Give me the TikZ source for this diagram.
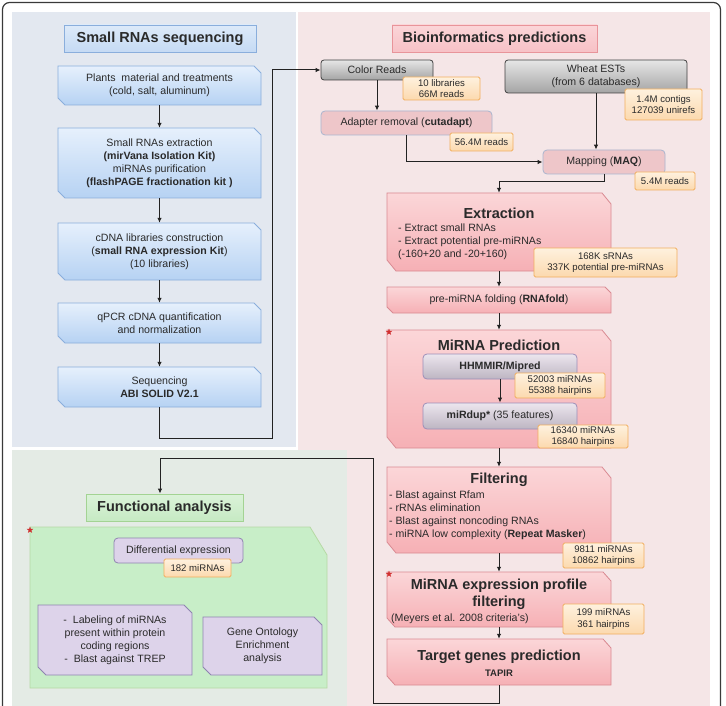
\documentclass[tikz,border=0pt]{standalone}
\usepackage{fontspec}
\setmainfont{Liberation Sans}
\usetikzlibrary{arrows.meta,shapes.geometric}
\definecolor{framec}{HTML}{3A3A3A}
\definecolor{bluebg}{HTML}{E3E8F0}
\definecolor{pinkbg}{HTML}{F5E6E7}
\definecolor{greenbg}{HTML}{E4EBE5}
\definecolor{bluetop}{HTML}{E6F0FC}
\definecolor{bluebot}{HTML}{B6D2F3}
\definecolor{blueedge}{HTML}{8AAEDC}
\definecolor{pinktop}{HTML}{FBD6D8}
\definecolor{pinkbot}{HTML}{F6B0B5}
\definecolor{pinkedge}{HTML}{D98A92}
\definecolor{ptitletop}{HTML}{FBD5D8}
\definecolor{ptitle}{HTML}{F7C1C6}
\definecolor{ptitleedge}{HTML}{E8949A}
\definecolor{btitletop}{HTML}{DDEAF9}
\definecolor{btitlebot}{HTML}{C5DAF4}
\definecolor{adfill}{HTML}{EEC6C9}
\definecolor{adedge}{HTML}{A9B5CF}
\definecolor{graytop}{HTML}{E6E6E6}
\definecolor{graybot}{HTML}{A4A4A4}
\definecolor{grayedge}{HTML}{404040}
\definecolor{liltop}{HTML}{ECE6EE}
\definecolor{lilbot}{HTML}{BDB5C2}
\definecolor{liledge}{HTML}{9C8EB8}
\definecolor{ortop}{HTML}{FEF1DE}
\definecolor{orbot}{HTML}{FCD9AE}
\definecolor{oredge}{HTML}{F2AE5E}
\definecolor{gtitletop}{HTML}{DBF2D9}
\definecolor{gtitle}{HTML}{C6EAC3}
\definecolor{gtitleedge}{HTML}{A3D393}
\definecolor{gbox}{HTML}{C8EEC8}
\definecolor{gboxedge}{HTML}{B6D9A4}
\definecolor{purfill}{HTML}{DDD3EA}
\definecolor{puredge}{HTML}{8F84B0}
\definecolor{txtc}{HTML}{2A2A2A}
\definecolor{linec}{HTML}{222222}
\definecolor{starc}{HTML}{D03030}
\newcommand\cbox[7]{\path[#1] (#2,#3) -- ++(#4-#6,0) -- ++(#6,#7) -- ++(0,#5-#7) -- ++(-#4+#6,0) -- ++(-#6,-#7) -- cycle;}
\tikzset{
  txt/.style={font=\fontsize{10.6}{13}\selectfont, text=txtc, align=center, inner sep=0pt},
  ltxt/.style={font=\fontsize{10.6}{13}\selectfont, text=txtc, align=left, inner sep=0pt},
  ttl/.style={font=\fontsize{14.5}{17}\selectfont\bfseries, text=txtc, align=center, inner sep=0pt},
  bluebox/.style={top color=bluetop, bottom color=bluebot, draw=blueedge, line width=0.8pt},
  pinkbox/.style={top color=pinktop, bottom color=pinkbot, draw=pinkedge, line width=0.8pt},
  purbox/.style={fill=purfill, draw=puredge, line width=0.8pt},
  lab/.style={rounded corners=1.5pt, top color=ortop, bottom color=orbot, draw=oredge, line width=0.8pt,
    font=\fontsize{9.6}{11.5}\selectfont, align=center, inner sep=0pt, text=txtc},
  graybox/.style={rounded corners=3pt, top color=graytop, bottom color=graybot, draw=grayedge, line width=0.8pt,
    font=\fontsize{10.6}{13}\selectfont, align=center, inner sep=0pt, text=txtc},
  lilbox/.style={rounded corners=4pt, top color=liltop, bottom color=lilbot, draw=liledge, line width=0.8pt,
    font=\fontsize{10.6}{13}\selectfont, align=center, inner sep=0pt, text=txtc},
  adbox/.style={rounded corners=4pt, fill=adfill, draw=adedge, line width=0.8pt,
    font=\fontsize{10.6}{13}\selectfont, align=center, inner sep=0pt, text=txtc},
  arr/.style={-{Latex[length=5pt,width=4.5pt]}, line width=1pt, draw=linec},
  mystar/.style={star, star points=5, star point ratio=2.4, fill=starc, inner sep=0pt, minimum size=7pt}
}
\begin{document}
\begin{tikzpicture}[x=1pt,y=-1pt]
\useasboundingbox (0,0) rectangle (726,706);
\fill[white] (0,0) rectangle (726,706);
% panels
\fill[bluebg] (12,12) rectangle (296,447);
\fill[pinkbg] (298,12) rectangle (710,706);
\fill[greenbg] (12,450) rectangle (347,706);
\draw[framec, line width=1.2pt, rounded corners=7pt] (2.5,2.5) rectangle (720.5,740);

% ---------- left: small RNA sequencing ----------
\node[ttl, top color=btitletop, bottom color=btitlebot, draw=blueedge, line width=0.8pt,
  minimum width=192pt, minimum height=27pt] (t1) at (160,38.5) {Small RNAs sequencing};

\cbox{bluebox}{58}{66}{203}{39}{7}{7}
\node[txt, minimum width=203pt, minimum height=39pt] (plants) at (159.5,85.5)
  {Plants\ \ material and treatments\\(cold, salt, aluminum)};
\cbox{bluebox}{58}{128}{203}{70}{7}{7}
\node[txt, minimum width=203pt, minimum height=70pt] (extract) at (159.5,163)
  {Small RNAs extraction\\\textbf{(mirVana Isolation Kit)}\\miRNAs purification\\\textbf{(flashPAGE fractionation kit )}};
\cbox{bluebox}{58}{223}{203}{57}{7}{7}
\node[txt, minimum width=203pt, minimum height=57pt] (cdna) at (159.5,251.5)
  {cDNA libraries construction\\(\textbf{small RNA expression Kit})\\(10 libraries)};
\cbox{bluebox}{58}{303}{203}{40}{7}{7}
\node[txt, minimum width=203pt, minimum height=40pt] (qpcr) at (159.5,323)
  {qPCR cDNA quantification\\and normalization};
\cbox{bluebox}{58}{367}{203}{40}{7}{7}
\node[txt, minimum width=203pt, minimum height=40pt] (seq) at (159.5,387)
  {Sequencing\\\textbf{ABI SOLID V2.1}};

\draw[arr] (plants) -- (extract);
\draw[arr] (extract) -- (cdna);
\draw[arr] (cdna) -- (qpcr);
\draw[arr] (qpcr) -- (seq);

% ---------- right: bioinformatics ----------
\node[ttl, top color=ptitletop, bottom color=ptitle, draw=ptitleedge, line width=0.8pt,
  minimum width=205pt, minimum height=27pt] (t2) at (494.5,38.5) {Bioinformatics predictions};

\node[graybox, minimum width=112pt, minimum height=20pt] (colorreads) at (377,70) {Color Reads};
\node[graybox, minimum width=182pt, minimum height=33pt] (wheat) at (596,76.5) {Wheat ESTs\\(from 6 databases)};
\node[lab, minimum width=77pt, minimum height=23pt] (l10) at (441.5,88.5) {10 libraries\\66M reads};
\node[lab, minimum width=77pt, minimum height=31pt] (lcont) at (663.5,104.5) {1.4M contigs\\127039 unirefs};
\node[adbox, minimum width=171pt, minimum height=24pt] (adapter) at (406.5,123) {Adapter removal (\textbf{cutadapt})};
\node[lab, minimum width=63pt, minimum height=18pt] (l56) at (481.5,142) {56.4M reads};
\node[adbox, minimum width=122pt, minimum height=24pt] (mapping) at (604,162) {Mapping (\textbf{MAQ})};
\node[lab, minimum width=60pt, minimum height=18pt] (l54) at (665,181) {5.4M reads};

\coordinate (c1) at (272,438);
\draw[arr] (seq.south) |- (c1) |- (colorreads.west);
\draw[arr] (colorreads.south) -- (colorreads.south |- adapter.north);
\draw[arr] (adapter.south) |- (mapping.west);
\draw[arr] (wheat.south) -- (wheat.south |- mapping.north);

% Extraction
\cbox{pinkbox}{387}{193}{224}{78}{9}{11}
\node[minimum width=224pt, minimum height=78pt, inner sep=0pt] (ext) at (499,232) {};
\node[ttl] (extT) at (499,213) {Extraction};
\node[ltxt, anchor=west] (extB) at (398,242) {- Extract small RNAs\\- Extract potential pre-miRNAs\\(-160+20 and -20+160)};
\node[lab, minimum width=143pt, minimum height=29pt] (l168) at (605.5,262.5) {168K sRNAs\\337K potential pre-miRNAs};
\draw[arr] (mapping.south) -- ++(0,7) -| (ext.north);

% folding
\cbox{pinkbox}{387}{287}{224}{26}{6}{6}
\node[txt, minimum width=224pt, minimum height=26pt] (fold) at (499,300) {pre-miRNA folding (\textbf{RNAfold})};
\draw[arr] (ext) -- (fold);

% MiRNA prediction
\cbox{pinkbox}{387}{330}{224}{118}{9}{11}
\node[minimum width=224pt, minimum height=118pt, inner sep=0pt] (pred) at (499,389) {};
\node[ttl] (predT) at (499,345) {MiRNA Prediction};
\node[lilbox, minimum width=154pt, minimum height=25pt] (hhmmir) at (500,366.5) {\textbf{HHMMIR/Mipred}};
\node[lilbox, minimum width=154pt, minimum height=26pt] (mirdup) at (500,416) {\textbf{miRdup*} (35 features)};
\node[lab, minimum width=90pt, minimum height=25pt] (l52) at (560,385.5) {52003 miRNAs\\55388 hairpins};
\node[lab, minimum width=90pt, minimum height=23pt] (l163) at (583,436.5) {16340 miRNAs\\16840 hairpins};
\node[mystar] (s1) at (389,332) {};
\draw[arr] (fold) -- (pred);
\draw[arr] (hhmmir) -- (mirdup);

% Filtering
\cbox{pinkbox}{387}{467}{224}{86}{9}{11}
\node[minimum width=224pt, minimum height=86pt, inner sep=0pt] (filt) at (499,510) {};
\node[ttl] (filtT) at (499,480) {Filtering};
\node[ltxt, anchor=west] (filtB) at (389,515.5) {- Blast against Rfam\\- rRNAs elimination\\- Blast against noncoding RNAs\\- miRNA low complexity (\textbf{Repeat Masker})};
\node[lab, minimum width=81pt, minimum height=25pt] (l98) at (603.5,555.5) {9811 miRNAs\\10862 hairpins};
\draw[arr] (pred) -- (filt);

% Expression profile
\cbox{pinkbox}{387}{572}{224}{55}{8}{9}
\node[minimum width=224pt, minimum height=55pt, inner sep=0pt] (expr) at (499,599.5) {};
\node[ttl] (exprT) at (499,594.5) {MiRNA expression profile\\filtering};
\node[txt, anchor=west] (exprB) at (391,619) {(Meyers et al. 2008 criteria's)};
\node[lab, minimum width=81pt, minimum height=30pt] (l199) at (603.5,619) {199 miRNAs\\361 hairpins};
\node[mystar] (s2) at (389,574) {};
\draw[arr] (filt) -- (expr);

% Target genes
\cbox{pinkbox}{387}{639}{224}{46}{8}{9}
\node[minimum width=224pt, minimum height=46pt, inner sep=0pt] (target) at (499,662) {};
\node[ttl] (targetT) at (499,657) {Target genes prediction};
\node[txt, font=\fontsize{9.5}{11}\selectfont\bfseries] (tapir) at (499,673) {TAPIR};
\draw[arr] (expr) -- (target);

% ---------- functional analysis ----------
\node[ttl, top color=gtitletop, bottom color=gtitle, draw=gtitleedge, line width=0.8pt,
  minimum width=157pt, minimum height=27pt] (fa) at (164.5,507.5) {Functional analysis};
\path[fill=gbox, draw=gboxedge, line width=0.8pt] (30,527) -- (310,527) -- (327,555) -- (327,688) -- (30,688) -- cycle;
\node[minimum width=297pt, minimum height=161pt, inner sep=0pt] (gbig) at (178.5,607.5) {};
\node[mystar] (s3) at (30,530) {};
\node[purbox, rounded corners=4pt, minimum width=129pt, minimum height=25pt, txt] (diff) at (178.5,550.5) {Differential expression};
\node[lab, minimum width=67pt, minimum height=18pt] (l182) at (197.5,568) {182 miRNAs};
\cbox{purbox}{38}{605}{154}{70}{8}{8}
\node[txt, minimum width=154pt, minimum height=70pt] (labl) at (115,640)
  {-\ \ Labeling of miRNAs\\present within protein\\coding regions\\-\ \ Blast against TREP};
\cbox{purbox}{203}{617}{119}{58}{8}{8}
\node[txt, minimum width=119pt, minimum height=58pt] (go) at (262.5,646) {Gene Ontology\\Enrichment\\analysis};

\coordinate (c3) at (373,703);
\coordinate (c4) at (160,458);
\draw[arr] (target.south) |- (c3) |- (c4) -- (c4 |- fa.north);
\end{tikzpicture}
\end{document}
